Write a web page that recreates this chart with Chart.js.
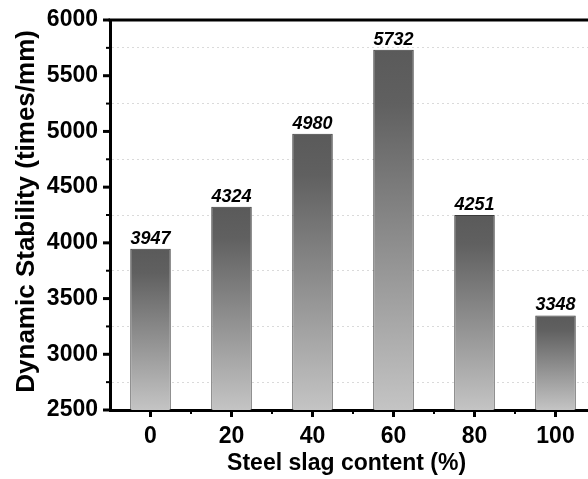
<!DOCTYPE html>
<html>
<head>
<meta charset="utf-8">
<script src="https://cdn.jsdelivr.net/npm/chart.js@4.4.0/dist/chart.umd.min.js"></script>
<style>
  html, body { margin: 0; padding: 0; background: #fff; overflow: hidden; }
  #wrap { width: 600px; height: 479px; }
</style>
</head>
<body>
<div id="wrap"><canvas id="chart" width="600" height="479"></canvas></div>
<script>
// data
const categories = ["0", "20", "40", "60", "80", "100"];
const stability = [3947, 4324, 4980, 5732, 4251, 3348];
const yMin = 2500, yMax = 6000, yMajor = 500, yMinor = 250;

const FONT = '"Liberation Sans", Arial, sans-serif';

function barGradient(c) {
  const chart = c.chart;
  const { ctx, chartArea, scales } = chart;
  if (!chartArea || !scales.y || c.type !== "data") return "#888";
  const yTop = scales.y.getPixelForValue(stability[c.dataIndex]);
  const yBot = scales.y.getPixelForValue(yMin);
  const g = ctx.createLinearGradient(0, yTop, 0, yBot);
  g.addColorStop(0, "#5a5a5a");
  g.addColorStop(0.15, "#606060");
  g.addColorStop(1, "#c4c4c4");
  return g;
}

// ticks, top frame line and value labels
const decor = {
  id: "decor",
  afterDraw(chart) {
    const { ctx, chartArea: a, scales: { x, y } } = chart;
    const line = (x1, y1, x2, y2) => {
      ctx.beginPath(); ctx.moveTo(x1, y1); ctx.lineTo(x2, y2); ctx.stroke();
    };
    ctx.save();
    ctx.strokeStyle = "#000";
    ctx.lineWidth = 3;
    line(a.left - 1.5, a.top, a.right, a.top);

    for (let v = yMin; v <= yMax; v += yMinor) {
      const py = y.getPixelForValue(v);
      const major = v % yMajor === 0;
      ctx.lineWidth = major ? 3 : 2;
      line(a.left - (major ? 7 : 4), py, a.left, py);
    }

    const step = x.getPixelForValue(1) - x.getPixelForValue(0);
    categories.forEach((c, i) => {
      const px = x.getPixelForValue(i);
      ctx.lineWidth = 3;
      line(px, a.bottom, px, a.bottom + 7);
      ctx.lineWidth = 2;
      line(px + step / 2, a.bottom, px + step / 2, a.bottom + 4);
    });

    const meta = chart.getDatasetMeta(0);
    ctx.fillStyle = "#000";
    ctx.font = "italic bold 18px " + FONT;
    ctx.textAlign = "center";
    ctx.textBaseline = "bottom";
    meta.data.forEach((bar, i) => ctx.fillText(String(stability[i]), bar.x, bar.y - 1));
    ctx.restore();
  }
};

new Chart(document.getElementById("chart"), {
  type: "bar",
  data: {
    labels: categories,
    datasets: [{
      data: stability,
      backgroundColor: barGradient,
      borderColor: "#3a3a3a",
      borderWidth: 1,
      borderSkipped: false,
      barPercentage: 0.5,
      categoryPercentage: 1
    }]
  },
  options: {
    responsive: false,
    animation: false,
    devicePixelRatio: 1,
    layout: { padding: { top: 20, right: 4, bottom: 0, left: 0 } },
    plugins: { legend: { display: false }, tooltip: { enabled: false } },
    scales: {
      x: {
        grid: { display: false },
        border: { display: true, color: "#000", width: 3 },
        ticks: { color: "#000", padding: 5, font: { family: FONT, size: 23, weight: "bold" } },
        title: {
          display: true, text: "Steel slag content (%)  ", color: "#000",
          padding: { top: 0, bottom: 2 },
          font: { family: FONT, size: 23, weight: "bold" }
        },
        afterFit(s) { s.height = 69; s.paddingLeft = 0; s.paddingRight = 0; }
      },
      y: {
        min: yMin, max: yMax,
        grid: {
          drawTicks: false,
          lineWidth: 1,
          color: (c) => (c.tick && c.tick.value % yMajor === 0) ? "rgba(0,0,0,0)" : "#dadada"
        },
        border: { display: true, color: "#000", width: 3, dash: [2, 3] },
        ticks: {
          stepSize: yMinor,
          autoSkip: false,
          padding: 12,
          color: "#000",
          font: { family: FONT, size: 23, weight: "bold" },
          callback: (v) => (v % yMajor === 0 ? String(v) : "")
        },
        title: {
          display: true, text: " Dynamic Stability (times/mm)", color: "#000",
          padding: { top: 11, bottom: 0 },
          font: { family: FONT, size: 26, weight: "bold" }
        },
        afterFit(s) { s.width = 110; s.paddingTop = 0; s.paddingBottom = 0; }
      }
    }
  },
  plugins: [decor]
});
</script>
</body>
</html>
